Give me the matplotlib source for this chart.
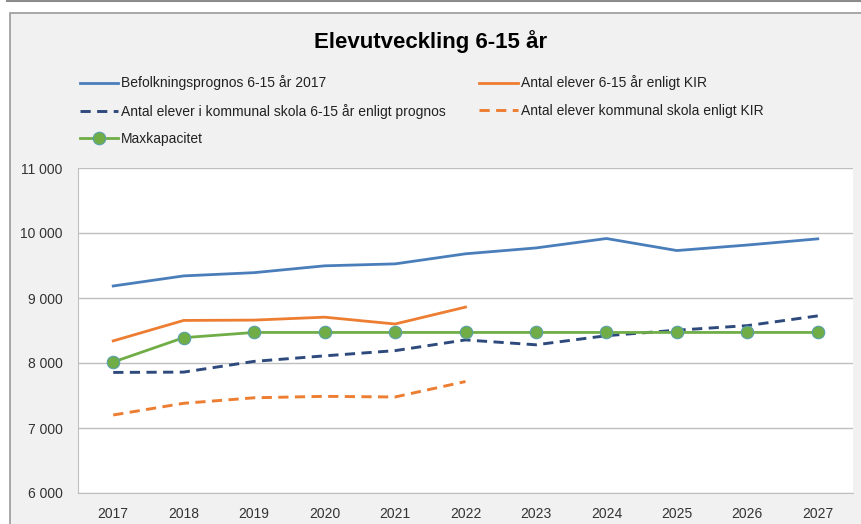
import matplotlib
matplotlib.use('Agg')
import matplotlib.pyplot as plt
from matplotlib.patches import Rectangle
from matplotlib.lines import Line2D
from matplotlib.ticker import FuncFormatter

years = ['2017', '2018', '2019', '2020', '2021', '2022', '2023', '2024', '2025', '2026', '2027']
befolkning = [9185, 9340, 9390, 9495, 9525, 9680, 9770, 9915, 9730, 9815, 9910]
elever_kir = [8340, 8655, 8660, 8705, 8600, 8860]
elever_prognos = [7855, 7860, 8025, 8110, 8190, 8355, 8280, 8420, 8505, 8575, 8725]
kommunal_kir = [7200, 7380, 7465, 7487, 7477, 7715]
maxkap = [8015, 8390, 8470, 8470, 8470, 8470, 8470, 8470, 8470, 8470, 8470]

labels = ['Befolkningsprognos 6-15 år 2017',
          'Antal elever 6-15 år enligt KIR',
          'Antal elever i kommunal skola 6-15 år enligt prognos',
          'Antal elever kommunal skola enligt KIR',
          'Maxkapacitet']

plt.rcParams['font.family'] = ['Liberation Sans', 'DejaVu Sans']

W, H = 862, 524
fig = plt.figure(figsize=(W / 100, H / 100), dpi=100)
fig.patch.set_facecolor('white')

# outer chart box and top rule
fig.add_artist(Line2D([7 / W, 1], [1 - 1 / H, 1 - 1 / H], transform=fig.transFigure,
                      color='#8c8c8c', lw=1.5, zorder=-2))
fig.add_artist(Rectangle((10 / W, -0.01), 1, 1 - 13 / H + 0.01, transform=fig.transFigure,
                         facecolor='#f1f1f1', edgecolor='#9a9a9a', lw=1.2, zorder=-2))

ax = fig.add_axes([78 / W, (H - 493) / H, (853 - 78) / W, (493 - 168) / H])
ax.set_facecolor('white')
x = list(range(len(years)))

blue = '#4a7ebb'
orange = '#ed7d31'
navy = '#2e4a7d'
green = '#70ad47'

ax.plot(x, befolkning, color=blue, lw=2.0, label=labels[0])
ax.plot(x[:len(elever_kir)], elever_kir, color=orange, lw=2.0, label=labels[1])
ax.plot(x, elever_prognos, color=navy, lw=2.1, ls=(0, (3.5, 2.2)), label=labels[2])
ax.plot(x[:len(kommunal_kir)], kommunal_kir, color=orange, lw=2.1, ls=(0, (3.5, 2.2)), label=labels[3])
ax.plot(x, maxkap, color=green, lw=2.0, marker='o', ms=9, mfc=green, mec='#5aa0a8', mew=0.8,
        label=labels[4])

ax.set_xlim(-0.5, len(years) - 0.5)
ax.set_ylim(6000, 11000)
ax.set_yticks(range(6000, 11001, 1000))
ax.yaxis.set_major_formatter(FuncFormatter(lambda v, p: f'{int(v):,}'.replace(',', ' ')))
ax.set_xticks(x)
ax.set_xticklabels(years)
ax.grid(axis='y', color='#bfbfbf', lw=1)
ax.set_axisbelow(True)
for s in ['top', 'right']:
    ax.spines[s].set_visible(False)
for s in ['left', 'bottom']:
    ax.spines[s].set_color('#bfbfbf')
ax.tick_params(length=0, labelsize=10, colors='#333333', pad=10)
ax.tick_params(axis='y', pad=11)

fig.text(431 / W, 1 - 42 / H, 'Elevutveckling 6-15 år', ha='center', va='center',
         fontsize=16, fontweight='bold', color='black')

handles, lbls = ax.get_legend_handles_labels()
order = [0, 2, 4, 1, 3]
leg = fig.legend([handles[i] for i in order], [lbls[i] for i in order],
                 loc='upper left', bbox_to_anchor=(67 / W, 1 - 63 / H), ncol=2,
                 frameon=False, fontsize=10, handlelength=2.8, handletextpad=0.2,
                 columnspacing=2.4, labelspacing=0.95, labelcolor='#222222')

fig.savefig('out.png', dpi=100, facecolor=fig.get_facecolor())
